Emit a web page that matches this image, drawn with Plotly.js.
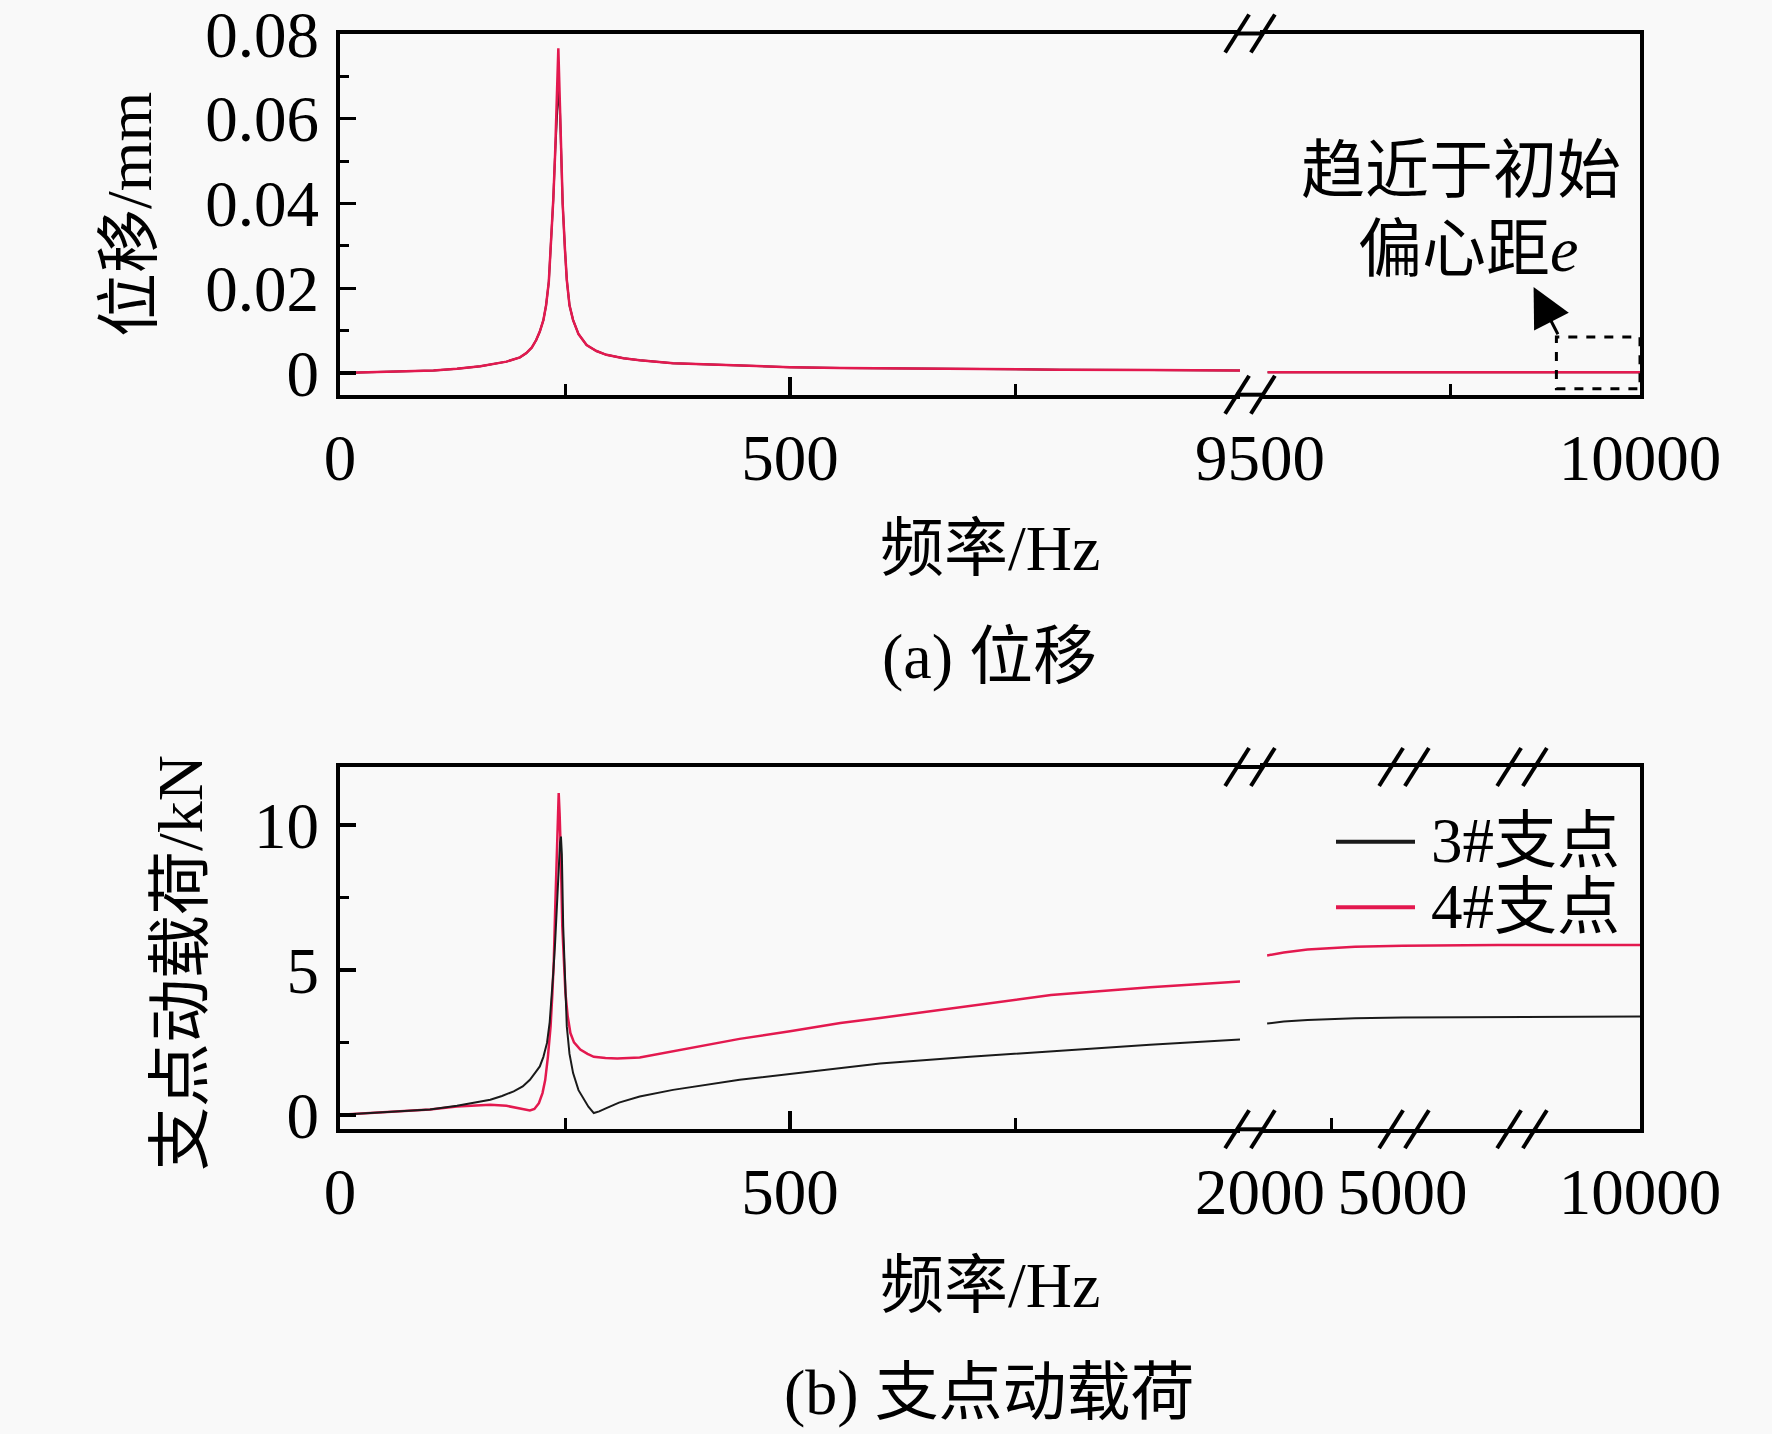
<!DOCTYPE html>
<html>
<head>
<meta charset="utf-8">
<script src="https://cdn.plot.ly/plotly-3.0.1.min.js"></script>
<style>
  html, body { margin: 0; padding: 0; background: #f9f9f9; }
  #chart { width: 1772px; height: 1434px; }
</style>
</head>
<body>
<div id="chart"></div>
<script>
// (a) displacement, 0-1000 Hz part
var dispFreq = [0, 30, 60, 104, 130, 156, 185, 200, 207, 213, 218, 222, 226, 229, 232, 235, 237, 239, 241, 242.6, 244.4, 246, 247.4, 250, 252, 255, 259, 265, 274, 285, 296, 315, 333, 370, 444, 500, 556, 600, 700, 800, 900, 1000];
var disp4 = [0, 0.00016, 0.0003, 0.0006, 0.001, 0.0016, 0.0027, 0.0037, 0.0047, 0.006, 0.0078, 0.0098, 0.0125, 0.016, 0.0215, 0.032, 0.041, 0.0516, 0.067, 0.0766, 0.063, 0.05, 0.04, 0.029, 0.022, 0.016, 0.0125, 0.0092, 0.0066, 0.0052, 0.0043, 0.0035, 0.003, 0.0023, 0.0017, 0.0014, 0.0012, 0.0011, 0.0009, 0.0008, 0.0007, 0.0006];
var disp3 = [0, 0.00016, 0.0003, 0.0006, 0.001, 0.0016, 0.0027, 0.0037, 0.0047, 0.006, 0.0078, 0.0098, 0.0125, 0.016, 0.0215, 0.032, 0.041, 0.0516, 0.062, 0.067, 0.062, 0.05, 0.04, 0.029, 0.022, 0.016, 0.0125, 0.0092, 0.0066, 0.0052, 0.0043, 0.0035, 0.003, 0.0023, 0.0017, 0.0014, 0.0012, 0.0011, 0.0009, 0.0008, 0.0007, 0.0006];
// (a) displacement, 9500-10000 Hz part
var dispFreqHi = [9510, 9600, 9700, 9800, 9900, 10000];
var disp4Hi = [0.0002, 0.0002, 0.0002, 0.0002, 0.0002, 0.0002];
var disp3Hi = [0.0002, 0.0002, 0.0002, 0.0002, 0.0002, 0.0002];

// (b) support dynamic load, 0-1000 Hz part
var load4Freq = [0, 11, 40, 74, 100, 130, 150, 167, 185, 200, 206, 211, 216, 221, 225, 228, 231, 234, 236, 237.6, 239, 240.5, 242, 243, 244, 245, 247, 250.5, 253, 256, 260, 267, 275, 282, 295, 308, 333, 370, 444, 500, 556, 600, 700, 790, 900, 1000];
var load4 = [0, 0.02, 0.07, 0.12, 0.18, 0.29, 0.33, 0.35, 0.31, 0.23, 0.19, 0.15, 0.2, 0.4, 0.75, 1.2, 2.0, 3.05, 4.2, 5.36, 7.0, 8.8, 10.3, 11.1, 10.4, 9.4, 6.5, 4.2, 3.4, 2.82, 2.5, 2.25, 2.1, 2.0, 1.96, 1.94, 1.98, 2.19, 2.62, 2.88, 3.17, 3.34, 3.75, 4.13, 4.4, 4.6];
var load3Freq = [0, 11, 40, 74, 100, 130, 150, 167, 180, 193, 203, 211, 218, 222, 226, 230, 233, 235, 237, 239, 241, 243, 244.5, 245.5, 246.5, 248, 250, 252, 255, 259, 265, 271, 276, 282, 288, 296, 310, 333, 370, 444, 500, 556, 600, 700, 790, 900, 1000];
var load3 = [0, 0.02, 0.07, 0.12, 0.18, 0.31, 0.41, 0.52, 0.65, 0.81, 0.98, 1.21, 1.5, 1.67, 2.0, 2.48, 3.2, 3.97, 4.9, 5.93, 7.3, 8.8, 9.4, 9.6, 9.0, 6.5, 4.6, 3.05, 2.1, 1.44, 0.85, 0.52, 0.28, 0.06, 0.12, 0.23, 0.42, 0.63, 0.86, 1.21, 1.42, 1.61, 1.77, 2.0, 2.2, 2.42, 2.6];
// (b) support dynamic load, 2000-10000 Hz part
var loadFreqHi = [2150, 2300, 2500, 3000, 3500, 4000, 5000, 6000, 7000, 8000, 9000, 10000];
var load4Hi = [5.5, 5.54, 5.6, 5.7, 5.76, 5.8, 5.83, 5.85, 5.86, 5.86, 5.86, 5.86];
var load3Hi = [3.15, 3.18, 3.22, 3.27, 3.3, 3.33, 3.36, 3.37, 3.38, 3.38, 3.39, 3.39];

var seriesNames = ['3#支点', '4#支点'];
var seriesColors = ['#1a1a1a', '#e3194f'];

var W = 1772, H = 1434;
function px(x) { return x / W; }
function py(y) { return 1 - y / H; }

var fontFam = 'Liberation Serif, Times New Roman, Noto Sans CJK SC, serif';
var tickFont = {family: fontFam, size: 65, color: 'black'};

// create traces
var traces = [
    {x: dispFreq, y: disp3, xaxis: 'x', yaxis: 'y', mode: 'lines', name: seriesNames[0], line: {color: seriesColors[0], width: 2}},
    {x: dispFreq, y: disp4, xaxis: 'x', yaxis: 'y', mode: 'lines', name: seriesNames[1], line: {color: seriesColors[1], width: 2.5}},
    {x: dispFreqHi, y: disp3Hi, xaxis: 'x2', yaxis: 'y2', mode: 'lines', name: seriesNames[0], line: {color: seriesColors[0], width: 2}},
    {x: dispFreqHi, y: disp4Hi, xaxis: 'x2', yaxis: 'y2', mode: 'lines', name: seriesNames[1], line: {color: seriesColors[1], width: 2.5}},
    {x: load4Freq, y: load4, xaxis: 'x3', yaxis: 'y3', mode: 'lines', name: seriesNames[1], line: {color: seriesColors[1], width: 2.5}},
    {x: load3Freq, y: load3, xaxis: 'x3', yaxis: 'y3', mode: 'lines', name: seriesNames[0], line: {color: seriesColors[0], width: 2}},
    {x: loadFreqHi, y: load4Hi, xaxis: 'x4', yaxis: 'y4', mode: 'lines', name: seriesNames[1], line: {color: seriesColors[1], width: 2.5}},
    {x: loadFreqHi, y: load3Hi, xaxis: 'x4', yaxis: 'y4', mode: 'lines', name: seriesNames[0], line: {color: seriesColors[0], width: 2}}
];

function xAxis(domain, range, tickvals, ticktext, minorVals, anchor, majorLen) {
    return {
        domain: domain, range: range, anchor: anchor,
        tickmode: 'array', tickvals: tickvals, ticktext: ticktext,
        ticks: majorLen > 0 ? 'inside' : '', ticklen: majorLen, tickwidth: 3.5, tickcolor: 'black',
        minor: {tickmode: 'array', tickvals: minorVals, ticks: 'inside', ticklen: 11, tickwidth: 3, tickcolor: 'black', showgrid: false},
        showline: true, linecolor: 'black', linewidth: 4, mirror: true,
        showgrid: false, zeroline: false, tickfont: tickFont, ticklabelstandoff: 3,
        ticklabeloverflow: 'allow'
    };
}

var xA = [px(340), px(1240)];
var xB = [px(1260), px(1640)];
var yTop = [py(394.7), py(33.5)];
var yBot = [py(1129.3), py(767)];

var layout = {
    width: W, height: H,
    margin: {l: 0, r: 0, t: 0, b: 0},
    paper_bgcolor: '#f9f9f9',
    plot_bgcolor: '#f9f9f9',
    showlegend: false,
    xaxis: xAxis(xA, [0, 1000], [0, 500], ['0', '500'], [250, 750], 'y', 18),
    xaxis2: xAxis(xB, [9500, 10000], [9500, 10000], ['9500', '10000'], [9750], 'y2', 0),
    xaxis3: xAxis(xA, [0, 1000], [0, 500], ['0', '500'], [250, 750], 'y3', 18),
    xaxis4: xAxis(xB, [2000, 10000], [2000, 5000, 10000], ['2000', '5000', '10000'], [3500], 'y4', 0),
    yaxis: {
        domain: yTop, range: [-0.0051, 0.0801], anchor: 'x',
        tickmode: 'array', tickvals: [0, 0.02, 0.04, 0.06, 0.08], ticktext: ['0', '0.02', '0.04', '0.06', '0.08'],
        ticks: 'inside', ticklen: 16, tickwidth: 3.5, tickcolor: 'black',
        minor: {tickmode: 'array', tickvals: [0.01, 0.03, 0.05, 0.07], ticks: 'inside', ticklen: 9, tickwidth: 3, tickcolor: 'black', showgrid: false},
        showline: true, linecolor: 'black', linewidth: 4,
        showgrid: false, zeroline: false, tickfont: tickFont, ticklabelstandoff: 4,
        ticklabeloverflow: 'allow'
    },
    yaxis2: {
        domain: yTop, range: [-0.0051, 0.0801], anchor: 'x2', side: 'right',
        showline: true, linecolor: 'black', linewidth: 4, ticks: '', showticklabels: false,
        showgrid: false, zeroline: false
    },
    yaxis3: {
        domain: yBot, range: [-0.5, 12], anchor: 'x3',
        tickmode: 'array', tickvals: [0, 5, 10], ticktext: ['0', '5', '10'],
        ticks: 'inside', ticklen: 16, tickwidth: 3.5, tickcolor: 'black',
        minor: {tickmode: 'array', tickvals: [2.5, 7.5], ticks: 'inside', ticklen: 9, tickwidth: 3, tickcolor: 'black', showgrid: false},
        showline: true, linecolor: 'black', linewidth: 4,
        showgrid: false, zeroline: false, tickfont: tickFont, ticklabelstandoff: 4,
        ticklabeloverflow: 'allow'
    },
    yaxis4: {
        domain: yBot, range: [-0.5, 12], anchor: 'x4', side: 'right',
        showline: true, linecolor: 'black', linewidth: 4, ticks: '', showticklabels: false,
        showgrid: false, zeroline: false
    },
    shapes: [],
    annotations: []
};

// frame lines across the axis gap, and the break marks
function paperLine(x0, y0, x1, y1, w, dash) {
    return {type: 'line', xref: 'paper', yref: 'paper', x0: px(x0), y0: py(y0), x1: px(x1), y1: py(y1),
        line: {color: 'black', width: w, dash: dash || 'solid'}};
}
[33.5, 394.7, 767, 1129.3].forEach(function (yy) {
    layout.shapes.push(paperLine(1236, yy, 1264, yy, 4));
});
function breakMark(cx, yy) {
    [-12.9, 12.9].forEach(function (off) {
        layout.shapes.push(paperLine(cx + off - 12, yy + 19, cx + off + 12, yy - 19, 4));
    });
}
breakMark(1250, 33.5);
breakMark(1250, 394.7);
[1250, 1404, 1522].forEach(function (cx) {
    breakMark(cx, 767);
    breakMark(cx, 1129.3);
});

// dashed box near 10000 Hz
layout.shapes.push({type: 'rect', xref: 'x2', yref: 'y2', x0: 9890, x1: 10000, y0: -0.0037, y1: 0.0085,
    line: {color: 'black', width: 3, dash: 'dash'}});

// legend drawn by hand (long line samples)
layout.shapes.push(paperLine(1336, 841.7, 1415, 841.7, 4));
layout.shapes[layout.shapes.length - 1].line.color = seriesColors[0];
layout.shapes.push(paperLine(1336, 907.3, 1415, 907.3, 4));
layout.shapes[layout.shapes.length - 1].line.color = seriesColors[1];

function label(text, x, y, size, opts) {
    var a = {text: text, xref: 'paper', yref: 'paper', x: px(x), y: py(y), showarrow: false,
        xanchor: 'center', yanchor: 'middle', font: {family: fontFam, size: size, color: 'black'}};
    for (var k in (opts || {})) { a[k] = opts[k]; }
    return a;
}
layout.annotations.push(label('位移/mm', 129, 215, 64, {textangle: -90}));
layout.annotations.push(label('频率/Hz', 990, 548, 64));
layout.annotations.push(label('(a) 位移', 989, 656, 64));
layout.annotations.push(label('趋近于初始', 1461, 170, 64));
layout.annotations.push(label('偏心距<i>e</i>', 1468, 249, 64));
layout.annotations.push(label('支点动载荷/kN', 181, 963, 64, {textangle: -90}));
layout.annotations.push(label(seriesNames[0], 1429, 841, 63, {xanchor: 'left'}));
layout.annotations.push(label(seriesNames[1], 1429, 907, 63, {xanchor: 'left'}));
layout.annotations.push(label('频率/Hz', 990, 1285, 64));
layout.annotations.push(label('(b) 支点动载荷', 989, 1392, 64));
// arrow pointing from the dashed box to the note
layout.annotations.push({text: '', xref: 'x2', yref: 'y2', x: 9860, y: 0.0203,
    axref: 'x2', ayref: 'y2', ax: 9893, ay: 0.0088,
    showarrow: true, arrowhead: 2, arrowsize: 2.6, arrowwidth: 3, arrowcolor: 'black'});

Plotly.newPlot('chart', traces, layout, {staticPlot: true});
</script>
</body>
</html>
